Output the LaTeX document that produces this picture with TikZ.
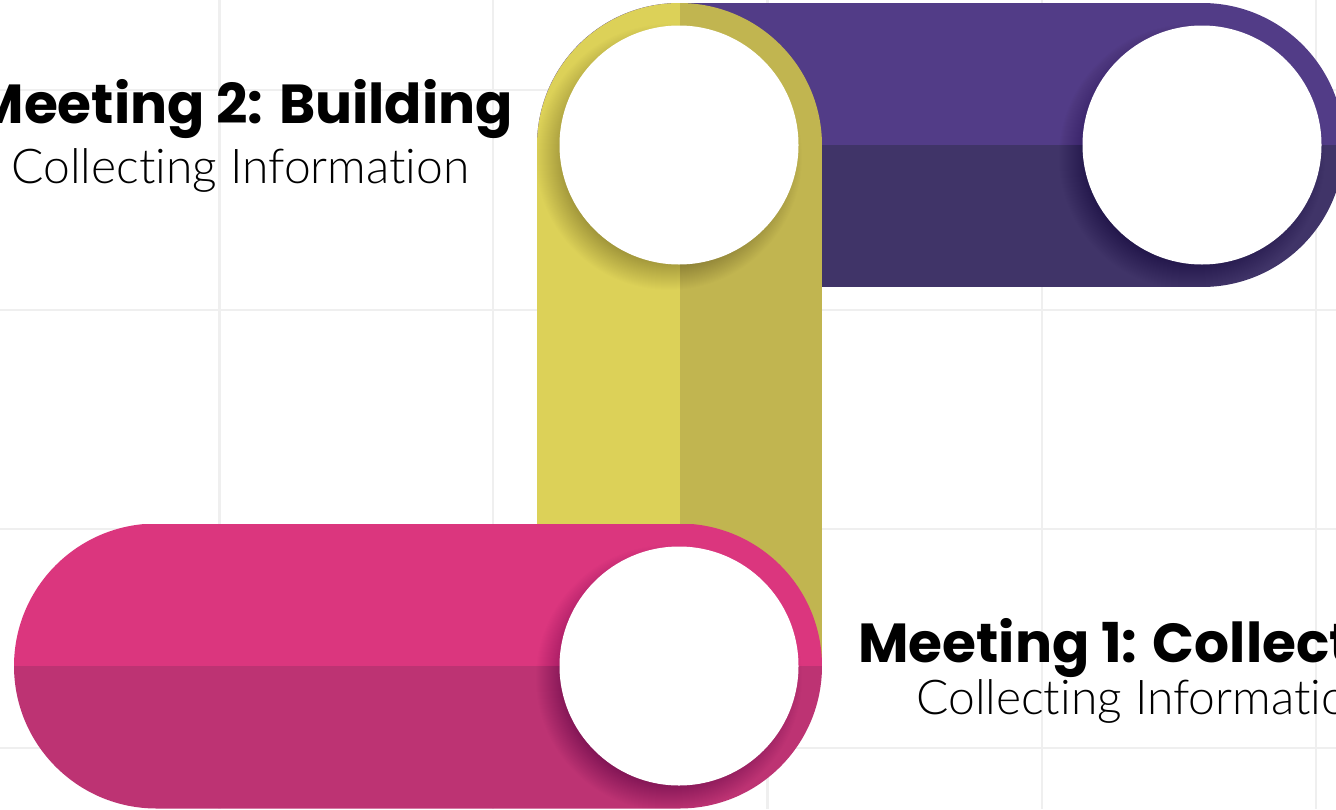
\documentclass[tikz,border=0pt]{standalone}
\usepackage{fontspec}
\newfontfamily\headfont{Poppins}[UprightFont=* Bold]
\newfontfamily\subfont{Lato}[UprightFont=* Light, Ligatures={NoCommon}]

\definecolor{ylwL}{HTML}{DCD158}
\definecolor{ylwD}{HTML}{C1B550}
\definecolor{purL}{HTML}{523C87}
\definecolor{purD}{HTML}{403468}
\definecolor{pnkL}{HTML}{DB367E}
\definecolor{pnkD}{HTML}{BD3373}
\definecolor{gridc}{HTML}{EFEFEF}

\tikzset{
  gridline/.style={draw=gridc, line width=2.5pt},
  headtext/.style={inner sep=0pt, font=\headfont\fontsize{55}{61}\selectfont},
  subtext/.style={inner sep=0pt, font=\subfont\fontsize{48}{56}\selectfont},
}

% soft shadow below-left of a disc, then the white disc itself
\newcommand{\holedisc}[2]{%
  \foreach \k in {0,...,29}
    \fill[black, fill opacity=0.0075] (#1-10,#2+12) circle (104pt+\k pt);
  \fill[white] (#1,#2) circle (119.5pt);
}

\begin{document}
\begin{tikzpicture}[x=1pt, y=-1pt]
  \useasboundingbox (0,0) rectangle (1336,809);
  \clip (0,0) rectangle (1336,809);
  \fill[white] (0,0) rectangle (1336,809);

  % background grid
  \foreach \gx in {219.5,493,767.5,1042,1316}
    \draw[gridline] (\gx,0) -- (\gx,809);
  \foreach \gy in {90,310,529,748}
    \draw[gridline] (0,\gy) -- (1336,\gy);

  % purple bar (upper right)
  \begin{scope}
    \clip[rounded corners=142pt] (537,3) rectangle (1344,287);
    \fill[purL] (537,3) rectangle (1344,145);
    \fill[purD] (537,145) rectangle (1344,287);
    \holedisc{1202}{145}
  \end{scope}

  % yellow bar (vertical)
  \begin{scope}
    \clip[rounded corners=142.5pt] (537,3) rectangle (822,800);
    \fill[ylwL] (537,3) rectangle (679.5,800);
    \fill[ylwD] (679.5,3) rectangle (822,800);
    \holedisc{679}{145}
  \end{scope}

  % pink bar (lower left)
  \begin{scope}
    \clip[rounded corners=142.5pt] (14,523.5) rectangle (822,808.5);
    \fill[pnkL] (14,523.5) rectangle (822,666);
    \fill[pnkD] (14,666) rectangle (822,808.5);
    \holedisc{679}{666}
  \end{scope}

  % labels
  \node[headtext, anchor=base east] (m2) at (513,123) {Meeting 2: Building};
  \node[subtext, anchor=base] (c2) at (240.5,183) {Collecting Information};
  \node[headtext, anchor=base west] (m1) at (858,662) {Meeting 1: Collecting};
  \node[subtext, anchor=base west] (c1) at (916,714) {Collecting Information};
\end{tikzpicture}
\end{document}
